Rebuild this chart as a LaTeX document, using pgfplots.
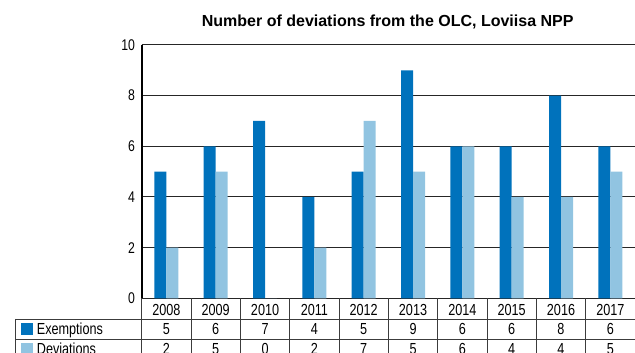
\documentclass[border=0pt]{standalone}
\usepackage{pgfplots}
\pgfplotsset{compat=1.18}
\usepackage{fontspec}
\setmainfont[FakeStretch=0.79]{Liberation Sans}
\newfontfamily\titlefont{Liberation Sans}
\definecolor{exc}{RGB}{0,114,188}
\definecolor{devc}{RGB}{145,196,225}
\definecolor{tline}{RGB}{60,60,60}
\begin{document}
\begin{tikzpicture}[x=1pt,y=1pt]
\useasboundingbox (0,0) rectangle (635,353);
\begin{scope}
\clip (0,0) rectangle (635,353);
\begin{axis}[
  at={(141.7pt,54.7pt)}, anchor=south west,
  scale only axis, width=493.3pt, height=253.3pt,
  xmin=-0.5, xmax=9.5, ymin=0, ymax=10,
  ybar=0pt, bar width=12pt,
  xtick=\empty,
  ytick={0,2,...,10},
  ymajorgrids, grid style={black!85, line width=1pt},
  axis x line=none,
  axis y line=left,
  y axis line style={-, line width=2pt, black},
  major tick length=0pt,
  /pgf/number format/assume math mode=true,
  yticklabel style={font=\fontsize{15.5}{15.5}\selectfont, inner sep=0pt, xshift=-6.5pt},
  clip=false,
]
\addplot[fill=exc, draw=none] coordinates {(0,5) (1,6) (2,7) (3,4) (4,5) (5,9) (6,6) (7,6) (8,8) (9,6)};
\addplot[fill=devc, draw=none] coordinates {(0,2) (1,5) (2,0) (3,2) (4,7) (5,5) (6,6) (7,4) (8,4) (9,5)};
\end{axis}
% title
\node[anchor=base, inner sep=0pt, font=\titlefont\bfseries\fontsize{16}{16}\selectfont] at (387.7,326) {Number of deviations from the OLC, Loviisa NPP};
% table
\begin{scope}[line width=0.9pt, tline]
\foreach \k in {0,...,9} { \draw (141.7+\k*49.33,54.7) -- (141.7+\k*49.33,-10); }
\draw (15.7,34) -- (640,34);
\draw (15.7,13.7) -- (640,13.7);
\draw (15.7,34) -- (15.7,-10);
\end{scope}
\fill[exc] (21,18) rectangle (32.7,30);
\fill[devc] (21,-2) rectangle (32.7,10);
\begin{scope}[every node/.style={inner sep=0pt, font=\fontsize{16}{16}\selectfont}]
\node[anchor=base west] at (36.7,18.3) {Exemptions};
\node[anchor=base west] at (36.7,-2) {Deviations};
\foreach \y/\e/\d [count=\i from 0] in {2008/5/2,2009/6/5,2010/7/0,2011/4/2,2012/5/7,2013/9/5,2014/6/6,2015/6/4,2016/8/4,2017/6/5} {
  \node[anchor=base] at (141.7+\i*49.33+24.67,37.7) {\y};
  \node[anchor=base] at (141.7+\i*49.33+24.67,18.3) {\e};
  \node[anchor=base] at (141.7+\i*49.33+24.67,-2) {\d};
}
\end{scope}
\end{scope}
\end{tikzpicture}
\end{document}
